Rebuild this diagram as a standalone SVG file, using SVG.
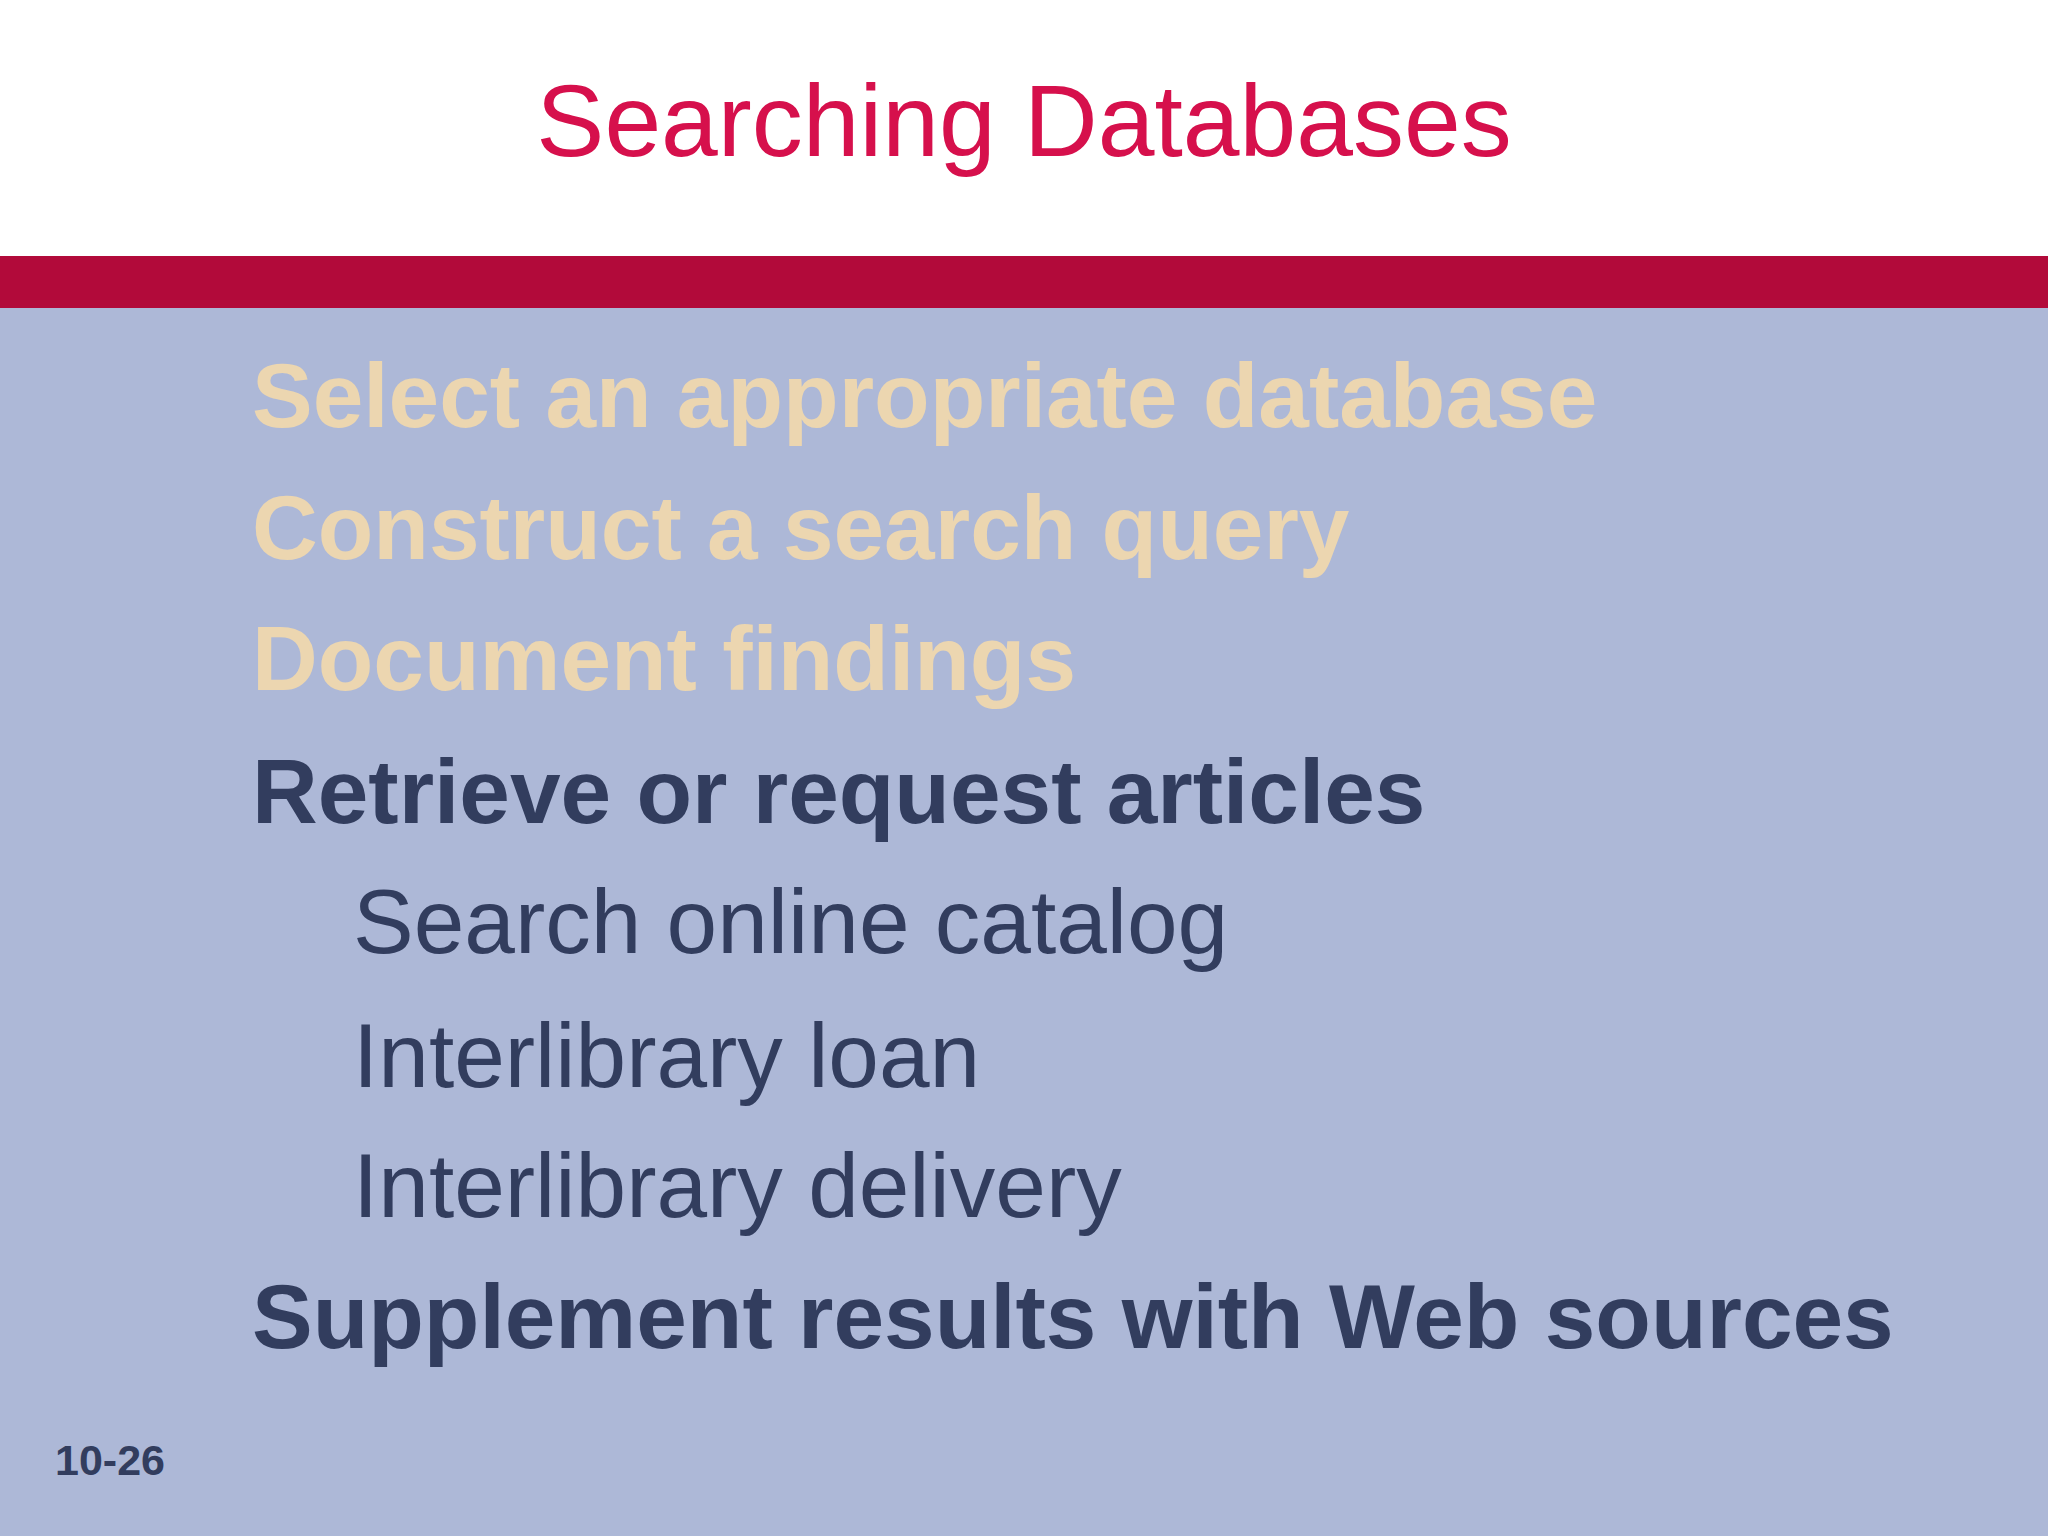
<svg xmlns="http://www.w3.org/2000/svg" width="2048" height="1536" viewBox="0 0 2048 1536">
<style>
.b{font-family:"Liberation Sans",Arial,sans-serif;font-weight:bold;font-size:91px}
.r{font-family:"Liberation Sans",Arial,sans-serif;font-size:91px;fill:#323d5e}
.c{fill:#ecd6b0}.d{fill:#323d5e}
</style>
<rect width="2048" height="1536" fill="#adb8d7"/>
<rect width="2048" height="256" fill="#ffffff"/>
<rect y="256" width="2048" height="52" fill="#b20a3a"/>
<text x="1024" y="156" text-anchor="middle" font-family="'Liberation Sans',Arial,sans-serif" font-size="102" fill="#d6104c">Searching Databases</text>
<g id="items">
<text class="b c" x="252" y="427">Select an appropriate database</text>
<text class="b c" x="252" y="559">Construct a search query</text>
<text class="b c" x="252" y="690">Document findings</text>
<text class="b d" x="252" y="823">Retrieve or request articles</text>
<text class="r" x="353" y="953">Search online catalog</text>
<text class="r" x="353" y="1087">Interlibrary loan</text>
<text class="r" x="353" y="1217">Interlibrary delivery</text>
<text class="b d" x="252" y="1348">Supplement results with Web sources</text>
</g>
<text x="55" y="1475" font-family="'Liberation Sans',Arial,sans-serif" font-weight="bold" font-size="43" fill="#323d5e">10-26</text>
</svg>
